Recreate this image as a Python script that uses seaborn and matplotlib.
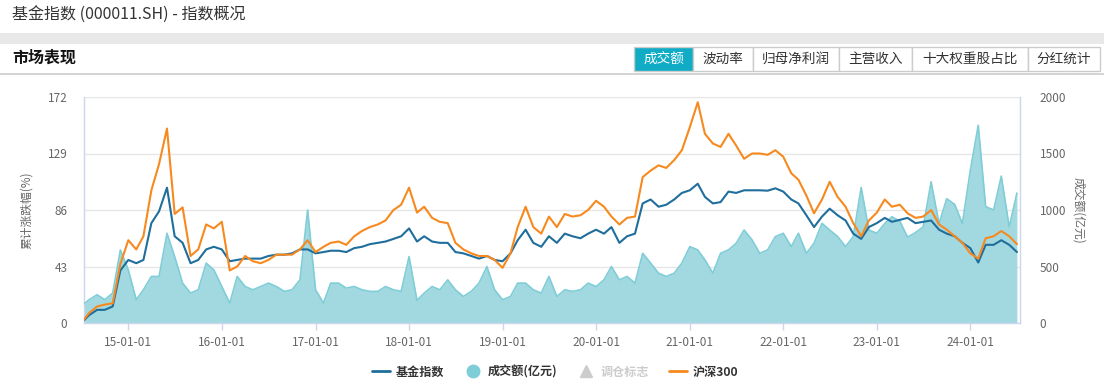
import matplotlib
matplotlib.use('Agg')
import matplotlib.pyplot as plt
import matplotlib.dates as mdates
from matplotlib.lines import Line2D
from matplotlib.patches import Rectangle
import seaborn as sns
import pandas as pd

sns.set_theme(style="white")
plt.rcParams['font.family'] = ['Noto Sans CJK SC', 'DejaVu Sans']

# monthly points, 2014-07 .. 2024-07
months = pd.date_range('2014-07-01', '2024-07-01', freq='MS')

# 基金指数 cumulative change (%)
fund_index = [0, 6, 10, 10, 12.6, 40,
              48, 45.5, 48, 76, 85, 103, 66, 61, 45.5, 48, 56, 58,
              56, 47, 48, 49, 49, 49, 51, 52, 52, 53, 56, 56,
              53, 54, 55, 55, 54, 57, 58, 60, 61, 62, 64, 66,
              72, 62, 66, 62, 61, 61, 54, 53, 51, 49, 51, 48,
              47, 53, 63, 71, 61, 58, 66, 61, 68, 66, 64.5, 68,
              71, 68, 73, 61, 66, 68, 91, 94, 88.5, 90, 94, 99,
              101, 106, 96, 91, 92, 100, 99, 101, 101, 101, 100.7, 102.5,
              100, 94, 91, 82, 73, 81, 87, 82, 78, 68, 64, 73,
              76, 80, 77, 78.5, 80, 76, 77, 78, 71, 68, 66, 61,
              57, 46, 59.5, 59.5, 63, 59.5, 54]

# 沪深300 cumulative change (%)
hs300 = [0, 7.6, 12.6, 14, 15, 45,
         63, 56, 66, 101, 121, 148, 83, 88, 51, 56, 75, 72,
         77, 40, 43, 51, 47, 45.5, 48, 52, 52, 52, 56, 63,
         54, 58, 61, 62, 59.5, 66, 70, 73, 75, 78, 86, 90,
         103, 84, 88.5, 80, 77, 76, 61, 56, 53, 51, 51, 48,
         42, 53, 73, 88.5, 73, 68, 81, 73, 83, 81, 82, 86,
         93, 88.5, 81, 75, 80, 81, 111, 116, 120, 118, 124, 131.5,
         149, 168, 144, 136.6, 134, 144, 135, 125, 129, 129, 128, 131.5,
         126.5, 114, 109, 97, 83.5, 94, 107.5, 96, 88.5, 76, 66, 78,
         84, 94, 88.5, 90, 83.5, 80, 81, 86, 75, 71, 66, 61,
         53, 49, 64.5, 66, 70, 66, 60]

# 成交额 (亿元)
volume = [150, 206, 250, 206, 265, 647,
          470, 206, 294, 412, 412, 794, 588, 353, 265, 294, 530, 470,
          323, 176, 412, 323, 294, 323, 353, 323, 280, 294, 382, 1000,
          294, 176, 353, 353, 309, 323, 294, 280, 280, 323, 294, 280,
          588, 200, 265, 323, 294, 382, 294, 235, 280, 353, 500, 294,
          206, 235, 353, 353, 294, 265, 412, 235, 294, 280, 294, 353,
          323, 382, 500, 382, 412, 353, 617, 530, 441, 412, 441, 530,
          676, 647, 559, 441, 617, 647, 706, 823, 735, 617, 647, 765,
          794, 676, 794, 617, 706, 882, 823, 765, 676, 765, 1200, 823,
          794, 880, 940, 900, 760, 800, 850, 1250, 880, 1100, 1050, 880,
          1350, 1750, 1030, 1000, 1300, 850, 1150]

tabs = ['成交额', '波动率', '归母净利润', '主营收入', '十大权重股占比', '分红统计']
tab_edges = [634, 693, 753, 839, 912, 1028, 1100]

df = pd.DataFrame({'date': months, '基金指数': fund_index,
                   '沪深300': hs300, '成交额': volume})

c_blue = '#1f6e9c'
c_orange = '#f7891e'
c_fill = '#a2d9e1'
c_vol = '#7fcdd7'
c_axis = '#ccd6eb'

W, H = 1104, 384
fig = plt.figure(figsize=(W / 100, H / 100), dpi=100)

# page header
fig.text(12 / W, 1 - 15 / H, '基金指数 (000011.SH) - 指数概况',
         fontsize=11.5, color='#333333', va='center')
fig.patches.append(Rectangle((0, 1 - 44 / H), 1, 11 / H, transform=fig.transFigure,
                             facecolor='#e8e8e8', edgecolor='none'))
fig.text(12 / W, 1 - 58 / H, '市场表现', fontsize=11.5, fontweight='bold',
         color='#111111', va='center')
fig.lines.append(Line2D([0, 1], [1 - 74 / H, 1 - 74 / H], transform=fig.transFigure,
                        color='#cccccc', lw=1.2))
for i, name in enumerate(tabs):
    x0, x1 = tab_edges[i], tab_edges[i + 1]
    active = i == 0
    fig.patches.append(Rectangle((x0 / W, 1 - 71 / H), (x1 - x0) / W, 24 / H,
                                 transform=fig.transFigure,
                                 facecolor='#10acc6' if active else 'white',
                                 edgecolor='#cccccc', lw=1))
    fig.text((x0 + x1) / 2 / W, 1 - 59 / H, name, fontsize=9.8, ha='center', va='center',
             color='white' if active else '#333333')

# main chart: volume axes in back (right scale), lines on twin (left scale)
ax_vol = fig.add_axes([84 / W, 1 - 323 / H, (1020 - 84) / W, (323 - 97) / H])
ax = ax_vol.twinx()

ax_vol.fill_between(df['date'], df['成交额'], color=c_fill, lw=0, zorder=2)
sns.lineplot(data=df, x='date', y='成交额', ax=ax_vol, color=c_vol, lw=1.2, zorder=3)
sns.lineplot(data=df, x='date', y='基金指数', ax=ax, color=c_blue, lw=1.5)
sns.lineplot(data=df, x='date', y='沪深300', ax=ax, color=c_orange, lw=1.5)

ax.set_ylim(0, 172)
ax_vol.set_ylim(0, 2000)
ax_vol.set_xlim(pd.Timestamp('2014-07-12'), pd.Timestamp('2024-07-13'))
ax.set_yticks([0, 43, 86, 129, 172])
ax_vol.set_yticks([0, 500, 1000, 1500, 2000])

ax.yaxis.tick_left()
ax.yaxis.set_label_position('left')
ax_vol.yaxis.tick_right()
ax_vol.yaxis.set_label_position('right')

ax.set_ylabel('累计涨跌幅(%)', fontsize=8.5, color='#666666')
ax.yaxis.set_label_coords(-0.055, 0.5)
ax_vol.set_ylabel('成交额(亿元)', fontsize=8.5, color='#666666', rotation=270, va='center')
ax_vol.yaxis.set_label_coords(1.062, 0.5)
ax_vol.set_xlabel('')
ax.set_xlabel('')

ax.tick_params(axis='y', length=0, pad=12, labelsize=8.5, labelcolor='#666666')
ax_vol.tick_params(axis='y', length=0, pad=14, labelsize=8.5, labelcolor='#666666')
ax_vol.xaxis.set_major_locator(mdates.YearLocator(month=1, day=1))
ax_vol.xaxis.set_major_formatter(mdates.DateFormatter('%y-%m-%d'))
ax_vol.tick_params(axis='x', direction='out', length=5, width=1, color=c_axis,
                   pad=4, labelsize=8.5, labelcolor='#666666', bottom=True)

ax_vol.grid(axis='y', color='#e6e6e6', lw=1)
ax_vol.set_axisbelow(True)
for side in ['left', 'bottom', 'right']:
    ax_vol.spines[side].set_color(c_axis)
    ax_vol.spines[side].set_linewidth(1)
ax_vol.spines['top'].set_visible(False)
for s in ax.spines.values():
    s.set_visible(False)

# legend
handles = [Line2D([], [], color=c_blue, lw=2),
           Line2D([], [], color=c_vol, marker='o', ls='none', markersize=9),
           Line2D([], [], color='#cccccc', marker='^', ls='none', markersize=8),
           Line2D([], [], color=c_orange, lw=2)]
labels = ['基金指数', '成交额(亿元)', '调仓标志', '沪深300']
leg = fig.legend(handles, labels, loc='center', bbox_to_anchor=(555 / W, 1 - 372 / H),
                 ncol=4, frameon=False, prop={'size': 8.7, 'weight': 'bold'},
                 handlelength=1.5, handletextpad=0.5, columnspacing=1.6)
for i, t in enumerate(leg.get_texts()):
    t.set_color('#cccccc' if i == 2 else '#333333')

fig.savefig('out.png', dpi=100)
plt.close(fig)
